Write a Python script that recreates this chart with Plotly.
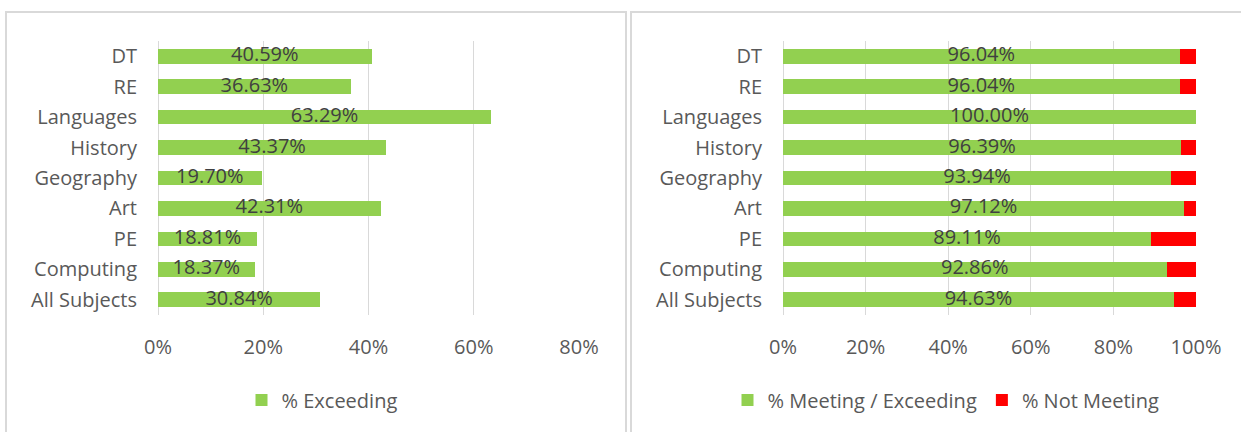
import plotly.graph_objects as go
from plotly.subplots import make_subplots

categories = ["All Subjects", "Computing", "PE", "Art", "Geography", "History", "Languages", "RE", "DT"]
exceeding = [30.84, 18.37, 18.81, 42.31, 19.70, 43.37, 63.29, 36.63, 40.59]
meeting = [94.63, 92.86, 89.11, 97.12, 93.94, 96.39, 100.00, 96.04, 96.04]
not_meeting = [5.37, 7.14, 10.89, 2.88, 6.06, 3.61, 0.00, 3.96, 3.96]
left_ticks = [0, 20, 40, 60, 80]
right_ticks = [0, 20, 40, 60, 80, 100]

GREEN = "#92D050"
RED = "#FF0000"
TXT = "#595959"
LBL = "#404040"
GRID = "#D9D9D9"
FONT = "Open Sans"
FS = 20

fig = make_subplots(rows=1, cols=2)

fig.add_trace(go.Bar(y=categories, x=exceeding, orientation="h", marker=dict(color=GREEN, line=dict(width=0)),
                     name="% Exceeding", legend="legend", hoverinfo="skip"), row=1, col=1)
fig.add_trace(go.Scatter(y=categories, x=[v / 2 for v in exceeding], mode="text",
                         text=[f"{v:.2f}%" for v in exceeding], textposition="middle center",
                         textfont=dict(size=FS, color=LBL, family=FONT), showlegend=False, hoverinfo="skip",
                         cliponaxis=False),
              row=1, col=1)

fig.add_trace(go.Bar(y=categories, x=meeting, orientation="h", marker=dict(color=GREEN, line=dict(width=0)),
                     name="% Meeting / Exceeding", legend="legend2", hoverinfo="skip"), row=1, col=2)
fig.add_trace(go.Bar(y=categories, x=not_meeting, orientation="h", marker=dict(color=RED, line=dict(width=0)),
                     name="% Not Meeting", legend="legend2", hoverinfo="skip"), row=1, col=2)
fig.add_trace(go.Scatter(y=categories, x=[v / 2 for v in meeting], mode="text",
                         text=[f"{v:.2f}%" for v in meeting], textposition="middle center",
                         textfont=dict(size=FS, color=LBL, family=FONT), showlegend=False, hoverinfo="skip",
                         cliponaxis=False),
              row=1, col=2)

W, H = 1241, 432
ytop = 1 - 41 / H
ybot = 1 - 315 / H

axis_common = dict(showgrid=True, gridcolor=GRID, gridwidth=1, zeroline=True, zerolinecolor=GRID,
                   zerolinewidth=1, showline=False, ticks="", ticklabelstandoff=18,
                   tickfont=dict(size=FS, color=TXT), fixedrange=True, automargin=False)
yaxis_common = dict(domain=[ybot, ytop], showgrid=False, ticks="", ticklabelstandoff=20,
                    tickfont=dict(size=FS, color=TXT), categoryorder="array", categoryarray=categories,
                    automargin=False, fixedrange=True)

fig.update_layout(
    width=W, height=H, margin=dict(l=0, r=0, t=0, b=0, autoexpand=False),
    paper_bgcolor="white", plot_bgcolor="white",
    barmode="stack", bargap=0.52,
    font=dict(family=FONT, size=FS, color=TXT),
    xaxis=dict(domain=[158 / W, 579 / W], range=[0, 80], tickvals=left_ticks,
               ticktext=[f"{t}%" for t in left_ticks], **axis_common),
    xaxis2=dict(domain=[783 / W, 1196 / W], range=[0, 100], tickvals=right_ticks,
                ticktext=[f"{t}%" for t in right_ticks], **axis_common),
    yaxis=dict(**yaxis_common),
    yaxis2=dict(**yaxis_common),
    legend=dict(orientation="h", x=322 / W, xanchor="center", y=1 - 400 / H, yanchor="middle",
                font=dict(size=FS, color=TXT), bgcolor="rgba(0,0,0,0)", traceorder="normal"),
    legend2=dict(orientation="h", x=946 / W, xanchor="center", y=1 - 400 / H, yanchor="middle",
                 font=dict(size=FS, color=TXT), bgcolor="rgba(0,0,0,0)", traceorder="normal"),
    shapes=[
        dict(type="rect", xref="paper", yref="paper", x0=6 / W, x1=626 / W, y0=-0.1, y1=1 - 12 / H,
             line=dict(color=GRID, width=2), fillcolor="rgba(0,0,0,0)", layer="below"),
        dict(type="rect", xref="paper", yref="paper", x0=631 / W, x1=1.1, y0=-0.1, y1=1 - 12 / H,
             line=dict(color=GRID, width=2), fillcolor="rgba(0,0,0,0)", layer="below"),
    ],
)

fig.write_html("out.html", config={"displayModeBar": False},
               post_script="document.body.style.margin='0px';document.body.style.overflow='hidden';")
